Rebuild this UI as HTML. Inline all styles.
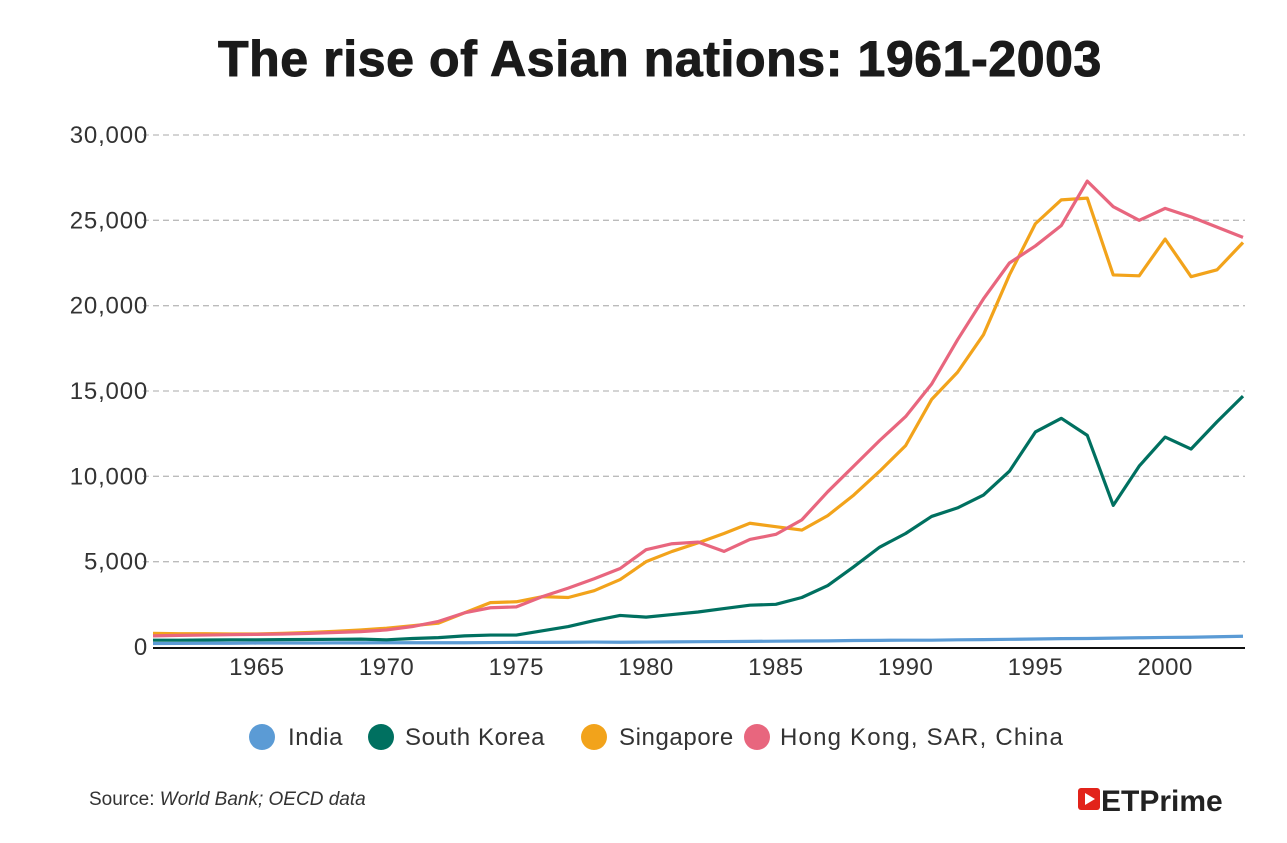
<!DOCTYPE html>
<html><head><meta charset="utf-8"><style>
body{margin:0;background:#fff;font-family:"Liberation Sans",sans-serif;}
svg text{font-family:"Liberation Sans",sans-serif;}
</style></head><body>
<svg width="1287" height="838" viewBox="0 0 1287 838">
<text x="660" y="76" text-anchor="middle" font-size="50" font-weight="900" fill="#1a1a1a" letter-spacing="0.6" stroke="#1a1a1a" stroke-width="1">The rise of Asian nations: 1961-2003</text>
<g id="grid"></g><g id="ylabels"></g><g id="xlabels"></g><g id="lines"></g>
<line x1="153" y1="648" x2="1245" y2="648" stroke="#111" stroke-width="2"/>
<g font-size="24" fill="#333" letter-spacing="0.6">
<g><circle cx="262" cy="737" r="13" fill="#5b9bd5"/><text x="288" y="745">India</text></g>
<g><circle cx="381" cy="737" r="13" fill="#007060"/><text x="405" y="745">South Korea</text></g>
<g><circle cx="594" cy="737" r="13" fill="#f2a31b"/><text x="619" y="745">Singapore</text></g>
<g><circle cx="757" cy="737" r="13" fill="#e8667e"/><text x="780" y="745" letter-spacing="1.2">Hong Kong, SAR, China</text></g>
</g>
<text x="89" y="805" font-size="19" fill="#333">Source: <tspan font-style="italic">World Bank; OECD data</tspan></text>
<g>
<rect x="1078" y="788" width="22" height="22" rx="3" fill="#e2231a"/><polygon points="1085,793 1085,805 1095,799" fill="#fff"/>
<text x="1101" y="811" font-size="30" font-weight="bold" fill="#222">ETPrime</text>
</g>
</svg>
<script>
const years=[];for(let y=1961;y<=2003;y++)years.push(y);
const yTicks=[0,5000,10000,15000,20000,25000,30000];
const xTicks=[1965,1970,1975,1980,1985,1990,1995,2000];
const india=[200,210,220,220,230,230,230,240,240,250,250,250,250,260,270,270,280,290,280,290,300,310,320,330,340,350,360,380,390,400,400,420,430,450,470,490,500,520,540,560,570,600,630];
const korea=[400,400,410,420,420,430,440,450,460,420,500,550,650,700,700,950,1200,1550,1850,1750,1900,2050,2250,2450,2500,2900,3600,4700,5850,6650,7650,8150,8900,10300,12600,13400,12400,8300,10600,12300,11600,13200,14700];
const singapore=[800,780,780,760,760,800,850,920,1000,1100,1250,1400,2000,2600,2650,2950,2900,3300,3950,5000,5600,6100,6650,7250,7050,6850,7700,8900,10300,11800,14500,16100,18300,21800,24800,26200,26300,21800,21750,23900,21700,22100,23700];
const hongkong=[650,680,700,720,740,760,800,850,900,1000,1200,1500,2000,2300,2350,2950,3450,4000,4600,5700,6050,6150,5600,6300,6600,7450,9100,10600,12100,13500,15400,18000,20400,22500,23500,24700,27300,25800,25000,25700,25200,24600,24000];
const NS='http://www.w3.org/2000/svg';
const X=y=>153+(y-1961)*(1243-153)/42;
const Y=v=>647-v*(512/30000);
const mk=(t,a,p)=>{const e=document.createElementNS(NS,t);for(const k in a)e.setAttribute(k,a[k]);document.getElementById(p).appendChild(e);return e;};
yTicks.forEach(v=>{
 if(v>0){const g=mk('line',{x1:143,x2:1245,y1:Y(v),y2:Y(v),stroke:'#bbb','stroke-width':1.3,'stroke-dasharray':'6,4'},'grid');
 
 }
 const t=mk('text',{x:148,y:Y(v)+8,'text-anchor':'end','font-size':24,'letter-spacing':0.8,fill:'#333'},'ylabels');
 t.textContent=v.toLocaleString('en-US');
 
 
});
xTicks.forEach(yr=>{
 const t=mk('text',{x:X(yr),y:675,'text-anchor':'middle','font-size':24,'letter-spacing':0.5,fill:'#333'},'xlabels');
 t.textContent=yr;
 
 
});
[[india,'#5b9bd5','india-line'],[korea,'#007060','south-korea-line'],[singapore,'#f2a31b','singapore-line'],[hongkong,'#e8667e','hong-kong-line']].forEach(([d,c,n])=>{
 const p=mk('polyline',{points:d.map((v,i)=>X(years[i])+','+Y(v)).join(' '),fill:'none',stroke:c,'stroke-width':3.2,'stroke-linejoin':'round'},'lines');
 
 
});
</script>
</body></html>
